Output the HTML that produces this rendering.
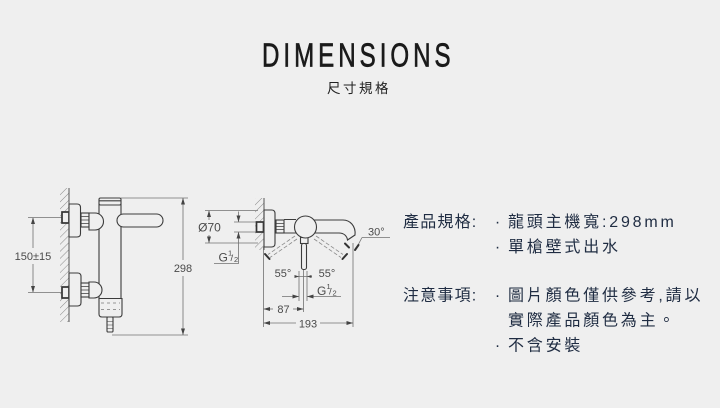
<!DOCTYPE html>
<html><head><meta charset="utf-8"><style>
html,body{margin:0;padding:0;background:#efefef;}
svg{display:block;}
</style></head><body>
<svg width="720" height="408" viewBox="0 0 720 408" xmlns="http://www.w3.org/2000/svg">
<defs>
<pattern id="hatch" width="5" height="5" patternUnits="userSpaceOnUse" patternTransform="rotate(45)">
<line x1="0" y1="0" x2="0" y2="5" stroke="#8a8a8a" stroke-width="1"/>
</pattern>
</defs>
<rect width="720" height="408" fill="#efefef"/>

<!-- Title -->
<text transform="translate(262,66.5) scale(0.72,1)" x="0" y="0" font-family="Liberation Sans, sans-serif" font-size="33.5" fill="#1a1a1a" stroke="#1a1a1a" stroke-width="0.7" textLength="262" lengthAdjust="spacing">DIMENSIONS</text>
<text x="327" y="93" font-family="Liberation Sans, 'Noto Sans CJK TC', sans-serif" font-size="13.5" letter-spacing="2.5" fill="#222">尺寸規格</text>

<!-- Right text -->
<g font-family="Liberation Sans, 'Noto Sans CJK TC', sans-serif" font-size="16" fill="#1f2c42">
<text x="403" y="227" letter-spacing="1.2">產品規格:</text>
<text x="497.5" y="227" text-anchor="middle">·</text>
<text x="508" y="227" letter-spacing="2.8">龍頭主機寬:298mm</text>
<text x="497.5" y="252" text-anchor="middle">·</text>
<text x="508" y="252" letter-spacing="2.8">單槍壁式出水</text>
<text x="403" y="300.5" letter-spacing="1.2">注意事項:</text>
<text x="497.5" y="300.5" text-anchor="middle">·</text>
<text x="508" y="300.5" letter-spacing="2.8">圖片顏色僅供參考,請以</text>
<text x="508" y="325.5" letter-spacing="2.8">實際產品顏色為主。</text>
<text x="497.5" y="350.5" text-anchor="middle">·</text>
<text x="508" y="350.5" letter-spacing="2.8">不含安裝</text>
</g>

<!-- ============ Drawing 1 ============ -->
<g stroke="#707070" stroke-width="0.8" fill="none">
<line x1="28" y1="217.5" x2="62" y2="217.5"/>
<line x1="28" y1="292.5" x2="62" y2="292.5"/>
<line x1="33" y1="218" x2="33" y2="248"/>
<line x1="33" y1="264" x2="33" y2="292"/>
<line x1="121" y1="198" x2="188" y2="198"/>
<line x1="112" y1="335" x2="188" y2="335"/>
<line x1="183" y1="198" x2="183" y2="260"/>
<line x1="183" y1="276" x2="183" y2="335"/>
</g>
<g fill="#444">
<polygon points="33,217.5 31,224 35,224"/>
<polygon points="33,292.5 31,286 35,286"/>
<polygon points="183,198 181,204.5 185,204.5"/>
<polygon points="183,335 181,328.5 185,328.5"/>
</g>
<g font-family="Liberation Sans, sans-serif" font-size="11" fill="#4a4a4a" text-anchor="middle">
<text x="33" y="260">150±15</text>
<text x="183" y="272">298</text>
</g>

<!-- wall 1 -->
<rect x="60" y="188" width="9" height="134" fill="url(#hatch)"/>
<line x1="69" y1="188" x2="69" y2="322" stroke="#555" stroke-width="1"/>

<g stroke="#3c3c3c" stroke-width="1.1" fill="#efefef">
<rect x="99" y="204" width="22" height="95" />
<rect x="99" y="198" width="22" height="7" rx="1.5"/>
<line x1="99.5" y1="200.8" x2="120.5" y2="200.8"/>
<rect x="117" y="214" width="46" height="13" rx="6.5"/>
<rect x="62" y="212" width="7" height="11" stroke="#333" stroke-width="1.7"/>
<path d="M69,204 H77 Q80.5,204 80.5,207.5 V233.5 Q80.5,237 77,237 H69 Z"/>
<rect x="81" y="213" width="8" height="14"/>
<path d="M81,216.5 H89 M81,220 H89 M81,223.5 H89" stroke-width="0.7"/>
<path d="M89,213 H95 A8.5,8.5 0 0 1 95,230 H89 Z"/>
<rect x="62" y="287" width="7" height="11" stroke="#333" stroke-width="1.7"/>
<path d="M69,273 H77.5 Q81,273 81,276.5 V302.5 Q81,306 77.5,306 H69 Z"/>
<rect x="81" y="283" width="8" height="14"/>
<path d="M81,286.5 H89 M81,290 H89 M81,293.5 H89" stroke-width="0.7"/>
<path d="M89,282 H94 A8,8 0 0 1 94,298 H89 Z"/>
<path d="M99,298.5 H122 V314 Q122,317 119,317 H102 Q99,317 99,314 Z"/>
<line x1="101" y1="303" x2="120" y2="303" stroke="#777" stroke-dasharray="3,3" stroke-width="0.8"/>
<line x1="101" y1="309.5" x2="120" y2="309.5" stroke="#777" stroke-dasharray="3,3" stroke-width="0.8"/>
<rect x="107" y="317" width="6" height="15" rx="1"/>
<path d="M107.5,321.5 H112.5 M107.5,325 H112.5 M107.5,328.5 H112.5" stroke-width="0.6"/>
</g>

<!-- ============ Drawing 2 ============ -->
<g stroke="#707070" stroke-width="0.8" fill="none">
<line x1="205" y1="210.5" x2="258" y2="210.5"/>
<line x1="205" y1="243" x2="258" y2="243"/>
<line x1="209" y1="211" x2="209" y2="220"/>
<line x1="209" y1="235" x2="209" y2="243"/>
<line x1="234" y1="222" x2="258" y2="222"/>
<line x1="234" y1="232" x2="258" y2="232"/>
<line x1="238.5" y1="211.5" x2="238.5" y2="222"/>
<line x1="238.5" y1="232" x2="238.5" y2="263"/>
<line x1="214" y1="263.5" x2="239" y2="263.5"/>
<line x1="263.5" y1="247" x2="263.5" y2="327"/>
<line x1="353" y1="243" x2="353" y2="327"/>
<line x1="299" y1="271" x2="299" y2="301"/>
<line x1="307" y1="271" x2="307" y2="301"/>
<line x1="303.5" y1="268" x2="303.5" y2="312"/>
<line x1="295" y1="276.5" x2="312" y2="276.5"/>
<line x1="282" y1="296.5" x2="299" y2="296.5"/>
<line x1="307" y1="296.5" x2="341" y2="296.5"/>
<line x1="263.5" y1="309" x2="273" y2="309"/>
<line x1="293" y1="309" x2="303.5" y2="309"/>
<line x1="263.5" y1="323" x2="296" y2="323"/>
<line x1="320" y1="323" x2="353" y2="323"/>
<line x1="362" y1="237.5" x2="390" y2="237.5"/>
<line x1="362" y1="237.5" x2="357" y2="247"/>
</g>
<g stroke="#8a8a8a" stroke-width="0.8" fill="none" stroke-dasharray="4,2">
<line x1="295" y1="236" x2="268" y2="254.5"/>
<line x1="297" y1="239" x2="270" y2="257.5"/>
<line x1="316" y1="236" x2="343" y2="254.5"/>
<line x1="314" y1="239" x2="341" y2="257.5"/>
</g>
<g fill="#444">
<polygon points="209,210.5 207,217 211,217"/>
<polygon points="209,243 207,236.5 211,236.5"/>
<polygon points="238.5,222 236.5,215.5 240.5,215.5"/>
<polygon points="238.5,232 236.5,238.5 240.5,238.5"/>
<polygon points="299,296.5 292.5,294.5 292.5,298.5"/>
<polygon points="307,296.5 313.5,294.5 313.5,298.5"/>
<polygon points="299,276.5 294.5,275 294.5,278"/>
<polygon points="307,276.5 311.5,275 311.5,278"/>
<polygon points="263.5,309 270,307 270,311"/>
<polygon points="303.5,309 297,307 297,311"/>
<polygon points="263.5,323 270,321 270,325"/>
<polygon points="353,323 346.5,321 346.5,325"/>
</g>
<g stroke="#333" stroke-width="2" stroke-linecap="round">
<line x1="265" y1="254" x2="269.5" y2="259"/>
<line x1="342.5" y1="259" x2="347" y2="254"/>
<line x1="355" y1="250" x2="358.5" y2="245"/>
<line x1="345" y1="243.5" x2="349" y2="247.5"/>
</g>

<rect x="255" y="198" width="9" height="52" fill="url(#hatch)"/>
<line x1="264" y1="198" x2="264" y2="250" stroke="#555" stroke-width="1"/>

<g stroke="#3c3c3c" stroke-width="1.1" fill="#efefef">
<rect x="256.5" y="222" width="7" height="10" stroke="#333" stroke-width="1.7"/>
<path d="M264,210 H271.5 Q275,210 275,213.5 V243.5 Q275,247 271.5,247 H264 Z"/>
<rect x="276" y="220" width="8" height="13"/>
<path d="M276,223.5 H284 M276,226.5 H284 M276,229.5 H284" stroke-width="0.7"/>
<path d="M284,219.5 H296 M284,233 H296"/>
<path d="M314,220 L343,220 C350,220 356,226 355,235 L347.5,240 C347,236 344,233 339,233 L314,233 Z"/>
<rect x="300.5" y="237.5" width="7.5" height="6"/>
<rect x="301.5" y="243.5" width="5" height="26" rx="2"/>
<circle cx="305.5" cy="227" r="11"/>
</g>

<g font-family="Liberation Sans, sans-serif" font-size="11" fill="#4a4a4a">
<text x="209.5" y="231.5" text-anchor="middle" font-size="12">Ø70</text>
<text x="218.5" y="261.5" font-size="12">G</text>
<text x="228" y="255.5" font-size="7.5">1</text>
<text x="230.5" y="261" font-size="9.5">/</text>
<text x="234" y="262" font-size="7.5">2</text>
<text x="283" y="277" text-anchor="middle">55°</text>
<text x="327" y="277" text-anchor="middle">55°</text>
<text x="317" y="295" font-size="12">G</text>
<text x="326.5" y="289" font-size="7.5">1</text>
<text x="329" y="294.5" font-size="9.5">/</text>
<text x="332.5" y="295.5" font-size="7.5">2</text>
<text x="283.5" y="313" text-anchor="middle">87</text>
<text x="308" y="327.5" text-anchor="middle">193</text>
<text x="368" y="235.5">30°</text>
</g>
</svg>
</body></html>
